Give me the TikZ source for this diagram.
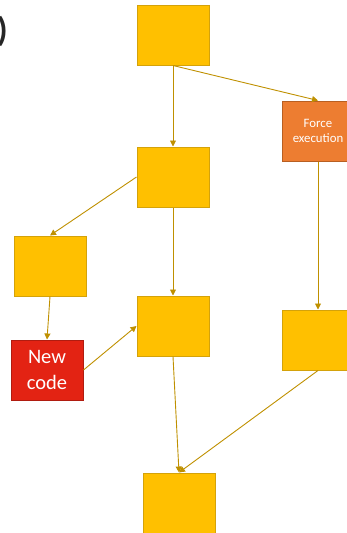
\documentclass[tikz,border=0pt]{standalone}
\usepackage{fontspec}
\setmainfont{Carlito}
\usetikzlibrary{arrows.meta}
\definecolor{oro}{HTML}{FFC000}
\definecolor{orobordo}{HTML}{D4A20A}
\definecolor{freccia}{HTML}{BF9000}
\definecolor{arancio}{HTML}{ED7D31}
\definecolor{aranciobordo}{HTML}{B85F22}
\definecolor{rosso}{HTML}{E32313}
\definecolor{rossobordo}{HTML}{B01C10}
\tikzset{
  blocco/.style = {rectangle, draw=orobordo, fill=oro, line width=1pt, minimum width=72pt, minimum height=60pt, inner sep=0},
  forza/.style  = {blocco, draw=aranciobordo, fill=arancio, text=white, align=center, font=\fontsize{12.8}{15.5}\selectfont},
  nuovo/.style  = {blocco, draw=rossobordo, fill=rosso, text=white, align=center, font=\fontsize{20.5}{25.5}\selectfont},
  parte/.style  = {inner sep=0, text=black!85, font=\bfseries\fontsize{34}{38}\selectfont},
  arco/.style   = {draw=freccia, line width=0.9pt, -{Triangle[length=6pt,width=6pt]}}
}
\begin{document}
\begin{tikzpicture}[x=1pt,y=-1pt]
  \useasboundingbox (0,0) rectangle (347,533);
  \node[parte,anchor=east] (par) at (8,31) {)};
  \node[blocco] (A) at (173, 35) {};
  \node[forza]  (F) at (318,131) {Force\\execution};
  \node[blocco] (B) at (173,177) {};
  \node[blocco] (L) at ( 50,266) {};
  \node[blocco] (C) at (173,326) {};
  \node[blocco] (R) at (318,340) {};
  \node[nuovo]  (N) at ( 47,370) {New\\code};
  \node[blocco] (D) at (179,503) {};
  \draw[arco] (A.south) -- (B.north);
  \draw[arco] (A.south) -- (F.north);
  \draw[arco] (B.west)  -- (L.north);
  \draw[arco] (B.south) -- (C.north);
  \draw[arco] (L.south) -- (N.north);
  \draw[arco] (N.east)  -- (C.west);
  \draw[arco] (C.south) -- (D.north);
  \draw[arco] (F.south) -- (R.north);
  \draw[arco] (R.south) -- (D.north);
\end{tikzpicture}
\end{document}
